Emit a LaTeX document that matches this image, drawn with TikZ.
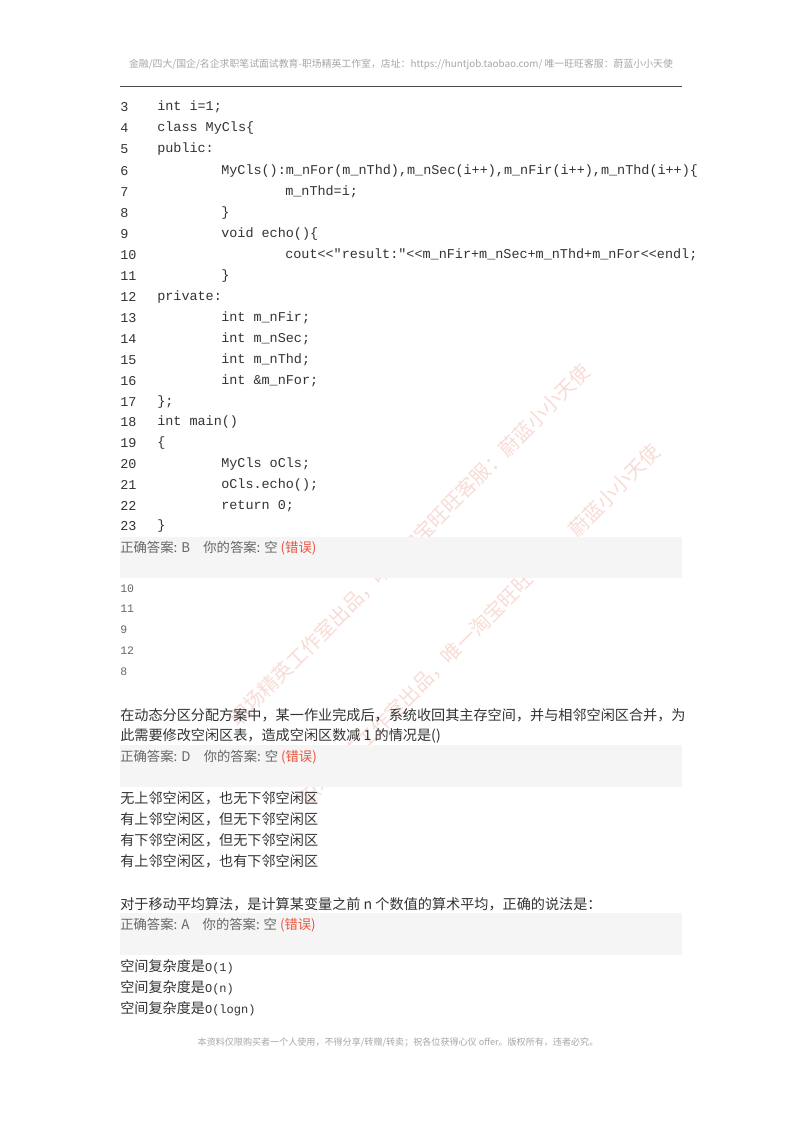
\documentclass[tikz,border=0pt]{standalone}
\usepackage{fontspec}
\setmainfont{Noto Sans CJK SC}
\setmonofont{Liberation Mono}
\newfontfamily\cjk{Noto Sans CJK SC}
\definecolor{txt}{HTML}{333333}
\definecolor{gr}{HTML}{666666}
\definecolor{bar}{HTML}{F5F5F5}
\definecolor{err}{HTML}{E8563F}
\definecolor{wm}{HTML}{F8DCD6}
\begin{document}
\begin{tikzpicture}[x=0.75pt,y=-0.75pt,
  code/.style={anchor=west,inner sep=0,font=\ttfamily\fontsize{10.1}{12}\selectfont,text=txt},
  cn/.style={anchor=west,inner sep=0,font=\cjk\fontsize{10.6}{12}\selectfont,text=txt},
  ans/.style={anchor=west,inner sep=0,font=\cjk\fontsize{10}{12}\selectfont,text=gr},
  opt/.style={anchor=west,inner sep=0,font=\ttfamily\fontsize{8.6}{10}\selectfont,text=gr},
  barbox/.style={fill=bar,draw=none}]
\useasboundingbox (0,0) rectangle (800,1132);
\fill[white] (0,0) rectangle (800,1132);
% watermarks
\node[rotate=45,text=wm,font=\cjk\fontsize{15}{18}\selectfont] (wm1) at (410,545) {职场精英工作室出品，唯一淘宝旺旺客服：蔚蓝小小天使};
\node[rotate=45,text=wm,font=\cjk\fontsize{15}{18}\selectfont] (wm2) at (480,625) {职场精英工作室出品，唯一淘宝旺旺客服：蔚蓝小小天使};
% header
\node[font=\cjk\fontsize{7.4}{9}\selectfont,text=black!35,inner sep=0] (hd) at (401,64) {金融/四大/国企/名企求职笔试面试教育-职场精英工作室，店址：https://huntjob.taobao.com/ 唯一旺旺客服：蔚蓝小小天使};
\draw[black!70,line width=0.6pt] (120,86) -- (682,86);
% code
\foreach \n/\y/\x/\t in {
3/107/157/{int i=1;},
4/128/157/{class MyCls\{},
5/149/157/{public:},
6/171/221/{MyCls():m\_nFor(m\_nThd),m\_nSec(i++),m\_nFir(i++),m\_nThd(i++)\{},
7/192/285/{m\_nThd=i;},
8/213/221/{\}},
9/234/221/{void echo()\{},
10/255/285/{cout<<"result:"<<m\_nFir+m\_nSec+m\_nThd+m\_nFor<<endl;},
11/276/221/{\}},
12/297/157/{private:},
13/318/221/{int m\_nFir;},
14/339/221/{int m\_nSec;},
15/360/221/{int m\_nThd;},
16/381/221/{int \&m\_nFor;},
17/402/157/{\};},
18/422/157/{int main()},
19/443/157/{\{},
20/464/221/{MyCls oCls;},
21/485/221/{oCls.echo();},
22/506/221/{return 0;},
23/526/157/{\}}}{
  \node[code] (ln\n) at (120,\y) {\n};
  \node[code] (cd\n) at (\x,\y) {\t};
}
% answer bars
\fill[bar] (120,537) rectangle (682,578);
\fill[bar] (120,745) rectangle (682,787);
\fill[bar] (120,913) rectangle (682,955);
\node[ans] (a1) at (120,548) {正确答案: B\quad 你的答案: 空 \textcolor{err}{(错误)}};
\node[ans] (a2) at (120,757) {正确答案: D\quad 你的答案: 空 \textcolor{err}{(错误)}};
\node[ans] (a3) at (120,925) {正确答案: A\quad 你的答案: 空 \textcolor{err}{(错误)}};
% options q1
\foreach \t/\y in {10/589,11/609,9/630,12/651,8/672}{\node[opt] (o\t) at (120,\y) {\t};}
% q2
\node[cn] (q2a) at (120,715) {在动态分区分配方案中，某一作业完成后，系统收回其主存空间，并与相邻空闲区合并，为};
\node[cn] (q2b) at (120,736) {此需要修改空闲区表，造成空闲区数减 1 的情况是()};
\node[cn] (p1) at (120,798) {无上邻空闲区，也无下邻空闲区};
\node[cn] (p2) at (120,819) {有上邻空闲区，但无下邻空闲区};
\node[cn] (p3) at (120,840) {有下邻空闲区，但无下邻空闲区};
\node[cn] (p4) at (120,861) {有上邻空闲区，也有下邻空闲区};
% q3
\node[cn] (q3) at (120,904) {对于移动平均算法，是计算某变量之前 n 个数值的算术平均，正确的说法是：};
\node[cn] (r1) at (120,967) {空间复杂度是{\ttfamily\fontsize{9}{10}\selectfont O(1)}};
\node[cn] (r2) at (120,988) {空间复杂度是{\ttfamily\fontsize{9}{10}\selectfont O(n)}};
\node[cn] (r3) at (120,1009) {空间复杂度是{\ttfamily\fontsize{9}{10}\selectfont O(logn)}};
% footer
\node[font=\cjk\fontsize{6.8}{9}\selectfont,text=black!35,inner sep=0] (ft) at (398,1042) {本资料仅限购买者一个人使用，不得分享/转赠/转卖；祝各位获得心仪 offer。版权所有，违者必究。};
\end{tikzpicture}
\end{document}
